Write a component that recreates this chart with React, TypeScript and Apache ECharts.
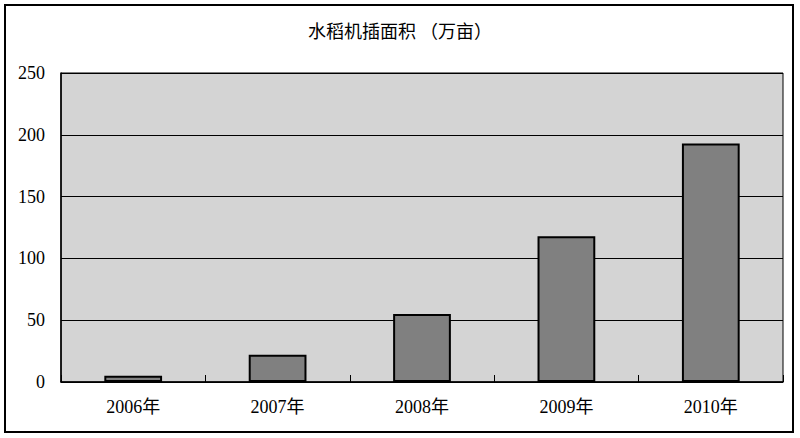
import React, { useEffect, useRef } from "react";
import * as echarts from "echarts";

const title = "水稻机插面积 （万亩）";
const categories = ["2006年", "2007年", "2008年", "2009年", "2010年"];
const values = [5, 22, 55, 118, 193];
const yMin = 0;
const yMax = 250;
const yInterval = 50;

export default function App() {
  const ref = useRef<HTMLDivElement>(null);
  useEffect(() => {
    if (!ref.current) return;
    const chart = echarts.init(ref.current, null, { renderer: "svg" });
    chart.setOption({
      animation: false,
      backgroundColor: "#ffffff",
      title: {
        text: title,
        left: 395,
        top: 16,
        textAlign: "center",
        textStyle: {
          fontFamily: "'Noto Sans CJK SC', sans-serif",
          fontSize: 18,
          fontWeight: "normal",
          color: "#000",
        },
      },
      graphic: [
        {
          type: "rect",
          shape: { x: 5, y: 5, width: 788, height: 427 },
          style: { fill: "none", stroke: "#000", lineWidth: 2 },
          z: 100,
        },
      ],
      grid: {
        left: 61,
        right: 17,
        top: 73,
        bottom: 56,
        show: true,
        backgroundColor: "#d4d4d4",
        borderColor: "#000",
        borderWidth: 1,
      },
      xAxis: {
        type: "category",
        data: categories,
        axisLine: { show: true, lineStyle: { color: "#000", width: 1.5 } },
        axisTick: { show: true, inside: true, length: 7, lineStyle: { color: "#000" } },
        axisLabel: {
          margin: 16,
          fontFamily: "'Liberation Serif', 'Noto Sans CJK SC', serif",
          fontSize: 18,
          color: "#000",
        },
      },
      yAxis: {
        type: "value",
        min: yMin,
        max: yMax,
        interval: yInterval,
        axisLine: { show: true, lineStyle: { color: "#000", width: 1.5 } },
        axisTick: { show: false },
        splitLine: { show: true, lineStyle: { color: "#000", width: 1.2 } },
        axisLabel: {
          margin: 16,
          fontFamily: "'Liberation Serif', serif",
          fontSize: 18,
          color: "#000",
        },
      },
      series: [
        {
          type: "bar",
          data: values,
          barWidth: "40%",
          itemStyle: { color: "#808080", borderColor: "#000", borderWidth: 2 },
        },
      ],
    });
    return () => chart.dispose();
  }, []);
  return (
    <div
      ref={ref}
      style={{ position: "fixed", left: 0, top: 0, width: 800, height: 438 }}
    />
  );
}
